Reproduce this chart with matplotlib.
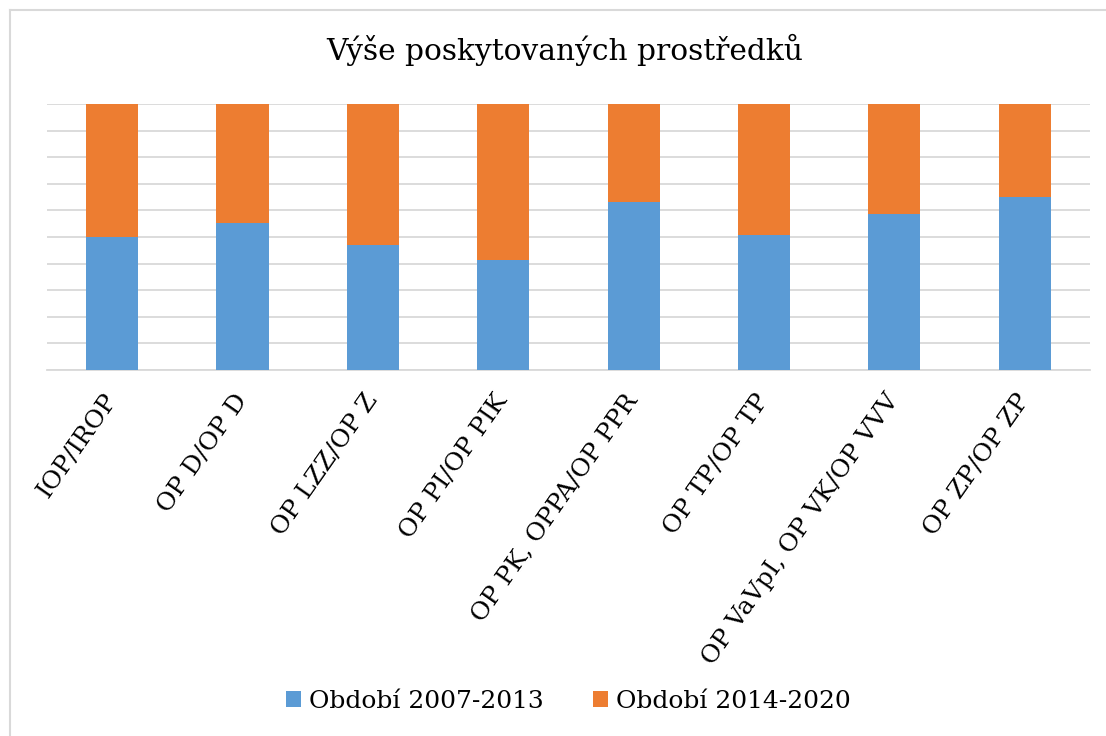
import numpy as np
import matplotlib.pyplot as plt
from matplotlib.lines import Line2D

# categories and shares (100 % stacked)
programs = ["IOP/IROP", "OP D/OP D", "OP LZZ/OP Z", "OP PI/OP PIK",
            "OP PK, OPPA/OP PPR", "OP TP/OP TP", "OP VaVpI, OP VK/OP VVV",
            "OP ZP/OP ZP"]
share_0713 = [50.1, 55.4, 46.9, 41.5, 63.2, 50.9, 58.5, 65.2]
share_1420 = [100 - v for v in share_0713]

labels = ["Období 2007-2013", "Období 2014-2020"]
colors = ["#5b9bd5", "#ed7d31"]

plt.rcParams['font.family'] = ['DejaVu Serif']

fig = plt.figure(figsize=(11.06, 7.36), dpi=100)
ax = fig.add_axes([0.0425, 0.4973, 0.943, 0.3614])

x = np.arange(len(programs))
ax.bar(x, share_0713, width=0.4, color=colors[0], label=labels[0], zorder=3)
ax.bar(x, share_1420, width=0.4, bottom=share_0713, color=colors[1],
       label=labels[1], zorder=3)

ax.set_xlim(-0.5, len(programs) - 0.5)
ax.set_ylim(0, 100)
ax.set_yticks(np.arange(0, 101, 10))
ax.set_yticklabels([])
ax.tick_params(axis='y', length=0)
ax.tick_params(axis='x', length=0, pad=19)
ax.grid(axis='y', color='#d9d9d9', linewidth=1.3, zorder=0)
for s in ['top', 'right', 'left']:
    ax.spines[s].set_visible(False)
ax.spines['bottom'].set_color('#d9d9d9')
ax.spines['bottom'].set_linewidth(1.3)

ax.set_xticks(x)
ax.set_xticklabels(programs, rotation=55, ha='right', va='center',
                   rotation_mode='anchor', fontsize=18)

fig.text(0.511, 0.932, "Výše poskytovaných prostředků", ha='center',
         va='center', fontsize=21.3)

fig.legend(loc='center', bbox_to_anchor=(0.514, 0.047), ncol=2, frameon=False,
           fontsize=18, handlelength=0.6, handleheight=0.6, handletextpad=0.3,
           columnspacing=2.0)

# chart frame: only the top and left edges show in the crop
fig.lines.append(Line2D([0.009, 1.0], [0.986, 0.986], transform=fig.transFigure,
                        color='#d9d9d9', linewidth=1.5))
fig.lines.append(Line2D([0.009, 0.009], [0.0, 0.986], transform=fig.transFigure,
                        color='#d9d9d9', linewidth=1.5))

fig.savefig("out.png", dpi=100)
